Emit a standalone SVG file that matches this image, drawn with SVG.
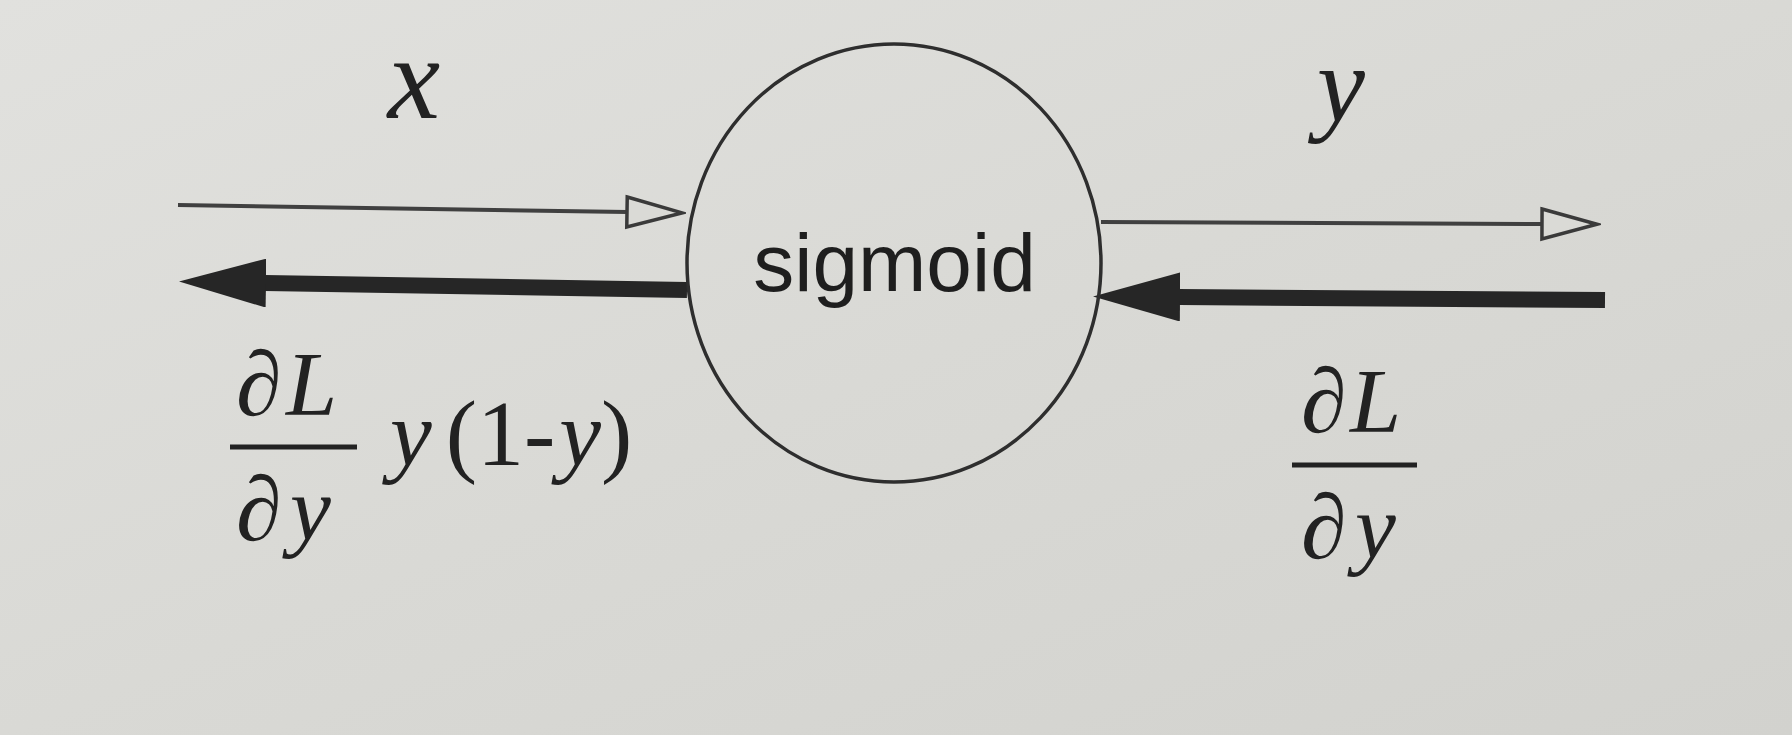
<svg xmlns="http://www.w3.org/2000/svg" width="1792" height="735" viewBox="0 0 1792 735">
  <defs>
    <linearGradient id="paper" x1="0" y1="0" x2="1" y2="1">
      <stop offset="0" stop-color="#e1e1de"/>
      <stop offset="0.5" stop-color="#d9d9d5"/>
      <stop offset="1" stop-color="#d2d2ce"/>
    </linearGradient>
    <marker id="openHead" markerUnits="userSpaceOnUse" viewBox="-4 -4 63 40" markerWidth="63" markerHeight="40" refX="0" refY="16" orient="auto">
      <path d="M0,1 L55,16 L0,31 Z" fill="#dadad6" stroke="#3a3a3a" stroke-width="3.5" stroke-linejoin="miter"/>
    </marker>
    <marker id="solidHead" markerUnits="userSpaceOnUse" viewBox="0 0 87 49" markerWidth="87" markerHeight="49" refX="1" refY="24.5" orient="auto">
      <path d="M0,0 L87,24.5 L0,49 Z" fill="#262626"/>
    </marker>
    <style>
      .thin { stroke: #404040; stroke-width: 4; fill: none; }
      .thick { stroke: #262626; stroke-width: 16; fill: none; }
      .math { font-family: "Liberation Serif", "Times New Roman", serif; fill: #222; }
      .it { font-style: italic; }
      .node-label { font-family: "Liberation Sans", Arial, sans-serif; font-size: 82px; fill: #1e1e1e; }
      .bar { stroke: #222; stroke-width: 5; }
    </style>
  </defs>

  <rect x="0" y="0" width="1792" height="735" fill="url(#paper)"/>

  <g id="connectors">
    <line class="thin" x1="178" y1="205" x2="627" y2="212" marker-end="url(#openHead)"/>
    <line class="thick" x1="687" y1="290" x2="265" y2="283" marker-end="url(#solidHead)"/>
    <line class="thin" x1="1101" y1="222" x2="1542" y2="224" marker-end="url(#openHead)"/>
    <line class="thick" x1="1605" y1="300" x2="1179" y2="297" marker-end="url(#solidHead)"/>
  </g>

  <g id="sigmoid">
    <ellipse cx="894" cy="263" rx="207" ry="219" fill="none" stroke="#2e2e2e" stroke-width="3.5"/>
    <text class="node-label" x="894.5" y="291" text-anchor="middle">sigmoid</text>
  </g>

  <g id="label-x">
    <text class="math it" x="414" y="118" font-size="118" text-anchor="middle">x</text>
  </g>

  <g id="label-y">
    <text class="math it" x="1341" y="121" font-size="108" text-anchor="middle">y</text>
  </g>

  <g id="label-left-gradient">
    <text class="math" font-size="92" y="415"><tspan x="236">∂</tspan><tspan class="it" x="286">L</tspan></text>
    <line class="bar" x1="230" y1="447" x2="357" y2="447"/>
    <text class="math" font-size="92" y="540"><tspan x="236">∂</tspan><tspan class="it" x="290">y</tspan></text>
    <text class="math" font-size="94" x="390" y="465"><tspan class="it">y</tspan><tspan dx="14">(1-</tspan><tspan class="it" dx="4">y</tspan>)</text>
  </g>

  <g id="label-right-gradient">
    <text class="math" font-size="92" y="432"><tspan x="1301">∂</tspan><tspan class="it" x="1350">L</tspan></text>
    <line class="bar" x1="1292" y1="465" x2="1417" y2="465"/>
    <text class="math" font-size="92" y="558"><tspan x="1301">∂</tspan><tspan class="it" x="1355">y</tspan></text>
  </g>
</svg>
